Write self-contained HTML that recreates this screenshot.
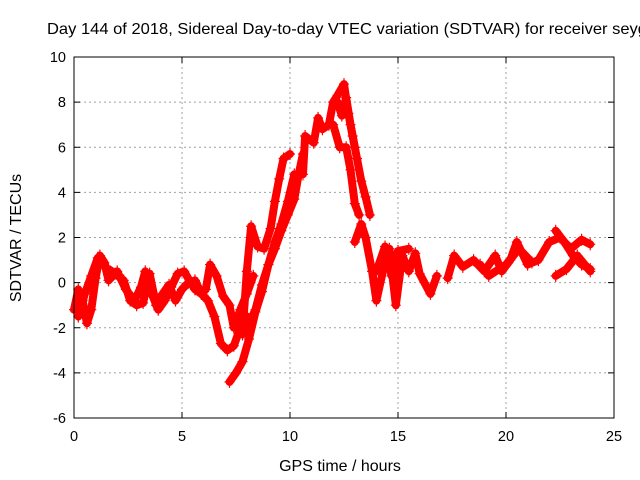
<!DOCTYPE html>
<html><head><meta charset="utf-8"><style>
body{margin:0;background:#fff}
svg{display:block;font-family:"Liberation Sans",sans-serif}
</style></head><body>
<svg width="640" height="480" viewBox="0 0 640 480" id="c">
<text x="47" y="34" font-size="16" textLength="600" lengthAdjust="spacingAndGlyphs">Day 144 of 2018, Sidereal Day-to-day VTEC variation (SDTVAR) for receiver seyg</text>
<text x="340" y="471" font-size="16" text-anchor="middle">GPS time / hours</text>
<text transform="translate(21,238) rotate(-90)" font-size="16" text-anchor="middle">SDTVAR / TECUs</text>
<g id="grid"></g>
<g id="ticks"></g>
<g id="marks"></g>
<rect x="74" y="57" width="540" height="361" fill="none" stroke="#000" stroke-width="1"/>
</svg>
<script>
const xTicks=[0,5,10,15,20,25];
const yTicks=[-6,-4,-2,0,2,4,6,8,10];
const seg1T=[0,0.2,0.4,0.6,0.8,1.0,1.2,1.4,1.6,2.0,2.4,2.8,3.1,3.3,3.6,3.9,4.2,4.5,4.8,5.1,5.4,5.6,5.9,6.2,6.5,6.8,7.1,7.4,7.7,8.0];
const seg1V=[-1.2,-0.3,-0.8,-1.8,-1.2,0.2,1.2,0.9,0.1,0.5,-0.3,-0.8,-0.2,0.5,-0.5,-1.2,-0.8,-0.2,0.4,0.5,0,-0.3,-0.5,-0.8,-1.5,-2.7,-3.0,-2.8,-2.0,-1.5];
const seg2T=[0.2,0.5,0.8,1.1];
const seg2V=[-1.5,-0.5,0.3,1.1];
const seg3T=[1.6,1.9,2.3,2.6,2.9,3.2,3.5,3.8,4.1,4.4,4.7,5.0,5.3,5.6,5.9,6.1,6.3,6.6,6.9,7.2,7.4,7.7,8.0,8.3];
const seg3V=[0.6,0.4,0.1,-0.8,-1.0,-0.9,0.4,-1.0,-0.5,-0.1,-0.8,-0.3,0,0.1,-0.5,-0.3,0.8,0.3,-0.6,-1.0,-2.0,-1.2,-0.5,0.3];
const rise1T=[7.2,7.5,7.8,8.1,8.4,8.7,9.0,9.3,9.6,9.9,10.2];
const rise1V=[-4.4,-4.0,-3.5,-2.5,-1.3,-0.4,0.8,1.8,2.6,3.6,4.8];
const rise2T=[7.8,8.0,8.2,8.5,8.8,9.1,9.3,9.5,9.7,10.0];
const rise2V=[-2.3,0.5,2.5,1.6,1.5,2.4,3.6,4.6,5.5,5.7];
const rise3T=[8.0,8.4,8.7,9.0,9.3,9.6,9.9,10.2,10.4,10.6];
const rise3V=[-2.0,-1.2,-0.1,0.8,1.5,2.3,3.0,3.7,4.8,5.7];
const peakT=[10.6,10.7,11.1,11.3,11.5,11.8,12.0,12.2,12.5,12.7,12.9,13.1,13.3,13.5,13.7];
const peakV=[4.8,6.5,6.2,7.3,6.8,7.0,8.0,8.3,8.8,7.5,6.5,5.5,4.5,3.8,3.0];
const peak2T=[12.0,12.3,12.6,12.8,13.0,13.2];
const peak2V=[7.0,6.0,6.0,5.0,3.5,3.0];
const peak3T=[12.2,12.4,12.6,12.8,13.0];
const peak3V=[8.0,7.4,8.2,7.0,6.0];
const tailT=[13.0,13.3,13.5,13.8,14.0,14.3,14.6,14.9,15.2,15.5,15.8,16.0,16.5,16.8];
const tailV=[1.8,2.6,2.0,0.5,-0.8,0.5,1.5,-1.0,1.2,0.5,1.3,0.4,-0.5,0.3];
const tail4T=[17.3,17.6,18.0,18.5,19.0,19.5,19.8,20.2,20.5,21.0,21.5,22.0,22.5,23.0,23.5,23.9];
const tail4V=[0.2,1.2,0.7,1.0,0.5,1.2,0.5,1.0,1.8,0.8,1.0,1.8,2.0,1.5,1.9,1.7];
const tail2T=[14.0,14.4,14.7,15.0,15.5];
const tail2V=[0.5,1.6,0.3,1.4,1.5];
const tail5T=[18.8,19.2,20.0,20.6,21.2];
const tail5V=[0.8,0.3,0.8,1.5,0.9];
const tail6T=[22.3,22.8,23.3,23.9];
const tail6V=[0.3,0.6,1.2,0.5];
const tail3T=[22.3,22.7,23.1,23.5,23.9];
const tail3V=[2.3,1.8,1.2,0.8,0.6];
const series=[[seg1T,seg1V],[seg2T,seg2V],[seg3T,seg3V],[rise1T,rise1V],[rise2T,rise2V],[rise3T,rise3V],[peakT,peakV],[peak2T,peak2V],[peak3T,peak3V],[tailT,tailV],[tail4T,tail4V],[tail2T,tail2V],[tail5T,tail5V],[tail6T,tail6V],[tail3T,tail3V]];
const X0=74,X1=614,Y0=418,Y1=57;
function sx(t){return X0+(t-0)/(25-0)*(X1-X0);}
function sy(v){return Y0-(v+6)/(16)*(Y0-Y1);}
const NS='http://www.w3.org/2000/svg';
const grid=document.getElementById('grid'),ticks=document.getElementById('ticks'),marks=document.getElementById('marks');
function mk(tag,attrs,parent){const e=document.createElementNS(NS,tag);for(const k in attrs)e.setAttribute(k,attrs[k]);parent.appendChild(e);return e;}
xTicks.forEach(t=>{const x=sx(t);
 if(t>0&&t<25){const g=mk('line',{x1:x,x2:x,y1:Y1,y2:Y0,stroke:'#a0a0a0','stroke-dasharray':'2,3'},grid);
 
 }
 mk('line',{x1:x,x2:x,y1:Y0,y2:Y0-6,stroke:'#000'},ticks);mk('line',{x1:x,x2:x,y1:Y1,y2:Y1+6,stroke:'#000'},ticks);
 const l=mk('text',{x:x,y:Y0+23,'font-size':'14.5','text-anchor':'middle'},ticks);l.textContent=t;
 
 
});
yTicks.forEach(v=>{const y=sy(v);
 if(v>-6&&v<10){const g=mk('line',{x1:X0,x2:X1,y1:y,y2:y,stroke:'#a0a0a0','stroke-dasharray':'2,3'},grid);
 
 }
 mk('line',{x1:X0,x2:X0+6,y1:y,y2:y,stroke:'#000'},ticks);mk('line',{x1:X1,x2:X1-6,y1:y,y2:y,stroke:'#000'},ticks);
 const l=mk('text',{x:X0-8,y:y+5,'font-size':'14.5','text-anchor':'end'},ticks);l.textContent=v;
 
 
});
series.forEach(([T,V])=>{
 const pts=T.map((t,i)=>sx(t)+','+sy(V[i])).join(' ');
 const pl=mk('polyline',{points:pts,fill:'none',stroke:'#f00','stroke-width':'8','stroke-linejoin':'round','stroke-linecap':'round'},marks);
 
 
 T.forEach((t,i)=>{const x=sx(t),y=sy(V[i]);
  const p=mk('path',{d:`M${x-5},${y}h10M${x},${y-6}v12`,stroke:'#f00','stroke-width':'1.2'},marks);
  
  
 });
});
</script>
</body></html>
